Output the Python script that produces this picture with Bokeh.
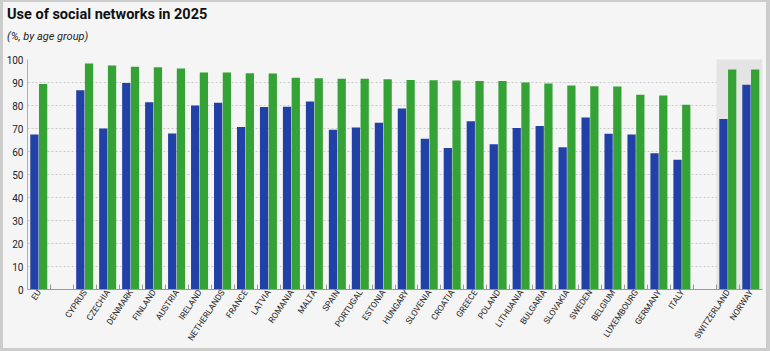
from math import radians
from bokeh.plotting import figure
from bokeh.layouts import column
from bokeh.models import FixedTicker, Range1d, BoxAnnotation, ColumnDataSource, Div
from bokeh.embed import file_html
from bokeh.resources import INLINE

title = "Use of social networks in 2025"
subtitle = "(%, by age group)"

eu = ["EU"]
eu_countries = ["CYPRUS", "CZECHIA", "DENMARK", "FINLAND", "AUSTRIA", "IRELAND",
                "NETHERLANDS", "FRANCE", "LATVIA", "ROMANIA", "MALTA", "SPAIN",
                "PORTUGAL", "ESTONIA", "HUNGARY", "SLOVENIA", "CROATIA", "GREECE",
                "POLAND", "LITHUANIA", "BULGARIA", "SLOVAKIA", "SWEDEN", "BELGIUM",
                "LUXEMBOURG", "GERMANY", "ITALY"]
other = ["SWITZERLAND", "NORWAY"]

# blue series (all individuals), green series (young people)
eu_blue = [67.4]
eu_green = [89.4]
countries_blue = [86.6, 70.0, 89.8, 81.4, 67.8, 80.0, 81.2, 70.7, 79.3, 79.5, 81.7, 69.5,
                  70.4, 72.5, 78.7, 65.5, 61.5, 73.1, 63.2, 70.2, 71.1, 61.9, 74.8, 67.7,
                  67.4, 59.2, 56.4]
countries_green = [98.3, 97.4, 96.9, 96.6, 96.1, 94.4, 94.3, 94.0, 93.9, 92.1, 91.8, 91.6,
                   91.6, 91.4, 91.1, 91.0, 90.9, 90.7, 90.6, 90.0, 89.6, 88.7, 88.4, 88.3,
                   84.7, 84.3, 80.3]
other_blue = [74.1, 89.0]
other_green = [95.7, 95.7]

y_ticks = [0, 10, 20, 30, 40, 50, 60, 70, 80, 90, 100]

BLUE = "#2241a6"
GREEN = "#35a236"
BG = "#f5f5f5"
FONT = "Roboto"

# slots: EU, gap, EU countries, gap, others
slots = eu + [""] + eu_countries + [""] + other
groups_idx = [0] + list(range(2, 2 + len(eu_countries))) + [3 + len(eu_countries) + i for i in range(len(other))]
names = eu + eu_countries + other
blue = eu_blue + countries_blue + other_blue
green = eu_green + countries_green + other_green
xc = [i + 0.5 for i in groups_idx]

src = ColumnDataSource(dict(
    xb=[x - 0.2 for x in xc], xg=[x + 0.18 for x in xc],
    blue=blue, green=green, name=names))

W, H = 763, 346
HEAD = 40

head = Div(text=(
    f'<div style="position:relative;width:{W}px;height:{HEAD}px;background:{BG};">'
    f'<span style="position:absolute;left:4px;top:6px;font-family:Roboto;font-weight:bold;'
    f'font-size:14.5px;line-height:1;color:#111;white-space:nowrap;">{title}</span>'
    f'<span style="position:absolute;left:4px;top:29px;font-family:Roboto;font-style:italic;'
    f'font-size:11px;line-height:1;color:#222;white-space:nowrap;">{subtitle}</span>'
    '</div>'), width=W, height=HEAD, margin=0, styles={"background-color": BG})

n = len(slots)
p = figure(width=W, height=H - HEAD, output_backend="svg", toolbar_location=None,
           x_range=Range1d(0, n), y_range=Range1d(0, 100),
           min_border_left=22, min_border_right=4, min_border_top=17, min_border_bottom=55,
           background_fill_color=BG, border_fill_color=BG, margin=0)
p.outline_line_color = None

# shaded non-EU area
p.add_layout(BoxAnnotation(left=groups_idx[-2], right=n, bottom=0, top=100.6,
                           fill_color="#e4e4e4", fill_alpha=1, line_color=None, level="underlay"))

p.vbar(x="xb", top="blue", width=0.36, bottom=0, source=src, color=BLUE, line_color=None)
p.vbar(x="xg", top="green", width=0.36, bottom=0, source=src, color=GREEN, line_color=None)

# axes
p.yaxis.ticker = FixedTicker(ticks=y_ticks)
p.yaxis.major_tick_out = 0
p.yaxis.major_tick_in = 0
p.yaxis.minor_tick_out = 0
p.yaxis.axis_line_color = "#b0b0b0"
p.yaxis.major_label_text_font = FONT
p.yaxis.major_label_text_font_size = "10px"
p.yaxis.major_label_text_color = "#222222"
p.yaxis.major_label_standoff = 4

p.xaxis.ticker = FixedTicker(ticks=[i + 0.5 for i in range(n)], minor_ticks=list(range(1, n)))
p.xaxis.major_label_overrides = {i + 0.5: s for i, s in enumerate(slots)}
p.xaxis.major_tick_in = 0
p.xaxis.major_tick_out = 0
p.xaxis.minor_tick_in = 5
p.xaxis.minor_tick_out = 0
p.xaxis.minor_tick_line_color = "#999999"
p.xaxis.axis_line_color = "#999999"
p.xaxis.major_label_orientation = radians(56)
p.xaxis.major_label_text_font = FONT
p.xaxis.major_label_text_font_size = "8.5px"
p.xaxis.major_label_text_color = "#222222"
p.xaxis.major_label_standoff = 1

p.xgrid.visible = False
p.ygrid.ticker = FixedTicker(ticks=y_ticks[1:])
p.ygrid.grid_line_color = "#c8c8c8"
p.ygrid.grid_line_dash = "2 2"

layout = column(head, p, spacing=0,
                styles={"border-style": "solid", "border-color": "#cccccc",
                        "border-width": "2px 4px 3px 3px", "background-color": BG})

open("out.html", "w").write(file_html(layout, INLINE))
